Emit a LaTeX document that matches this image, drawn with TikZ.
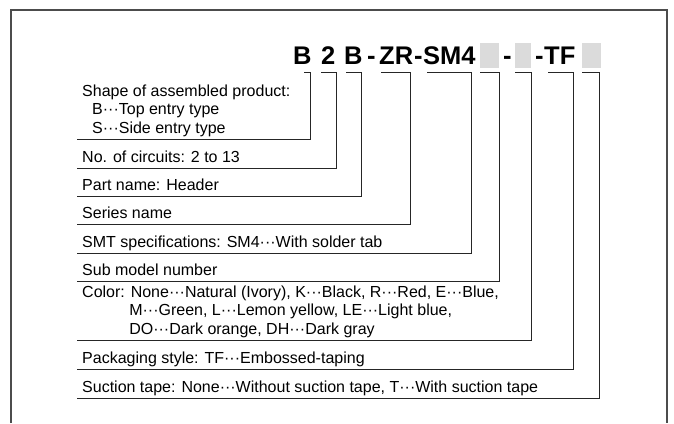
\documentclass[tikz,border=0pt]{standalone}
\usepackage{fontspec}
\setmainfont{Liberation Sans}
\begin{document}
\begin{tikzpicture}[x=1pt,y=-1pt,
		code/.style={anchor=base west,inner sep=0pt,font=\fontsize{25.5}{28}\selectfont\bfseries},
		blank/.style={anchor=north west,fill=black!14,minimum height=25pt,inner sep=0pt},
		desc/.style={anchor=base west,inner sep=0pt,align=left,font=\fontsize{16}{18.3}\selectfont},
		lead/.style={line width=0.9pt,black!85}]
		\useasboundingbox (0,0) rectangle (674,423);
		\draw[line width=1.1pt,black!70] (11,423) -- (11,10) -- (667,10) -- (667,423);

		\node[code] (cShape) at (293,64) {B};
		\node[code] (cCirc) at (321,64) {2};
		\node[code] (cPart) at (344,64) {B};
		\node[code] (h1) at (367,64) {-};
		\node[code] (cSeries) at (379,64) {ZR};
		\node[code] (h2) at (414,64) {-};
		\node[code] (cSMT) at (423,64) {SM4};
		\node[blank,minimum width=19pt] (cSub) at (480,43) {};
		\node[code] (h3) at (503,64) {-};
		\node[blank,minimum width=16pt] (cColor) at (515,43) {};
		\node[code] (h4) at (535,64) {-};
		\node[code] (cPack) at (544,64) {TF};
		\node[blank,minimum width=19pt] (cTape) at (582,43) {};

		% base of a multi-line node = its last line
		\node[desc] (dShape) at (82,133) {Shape of assembled product:\\\hspace*{10pt}B···Top entry type\\\hspace*{10pt}S···Side entry type};
		\node[desc] (dCirc) at (82,162) {No. of circuits: 2 to 13};
		\node[desc] (dPart) at (82,190) {Part name: Header};
		\node[desc] (dSeries) at (82,218) {Series name};
		\node[desc] (dSMT) at (82,247) {SMT specifications: SM4···With solder tab};
		\node[desc] (dSub) at (82,275) {Sub model number};
		\node[desc] (dColor) at (82,334) {Color: None···Natural (Ivory), K···Black, R···Red, E···Blue,\\\hphantom{Color:\ }M···Green, L···Lemon yellow, LE···Light blue,\\\hphantom{Color:\ }DO···Dark orange, DH···Dark gray};
		\node[desc] (dPack) at (82,363) {Packaging style: TF···Embossed-taping};
		\node[desc] (dTape) at (82,392) {Suction tape: None···Without suction tape, T···With suction tape};

		\coordinate (eShape) at (77,139);
		\coordinate (eCirc) at (77,168);
		\coordinate (ePart) at (77,196);
		\coordinate (eSeries) at (77,224);
		\coordinate (eSMT) at (77,253);
		\coordinate (eSub) at (77,281);
		\coordinate (eColor) at (77,340);
		\coordinate (ePack) at (77,369);
		\coordinate (eTape) at (77,398);

		\coordinate (rShape) at (310,72);
		\coordinate (rCirc) at (336,72);
		\coordinate (rPart) at (361,72);
		\coordinate (rSeries) at (410,72);
		\coordinate (rSMT) at (471,72);
		\coordinate (rSub) at (499,72);
		\coordinate (rColor) at (531,72);
		\coordinate (rPack) at (573,72);
		\coordinate (rTape) at (599,72);

		\coordinate (aShape) at (304,72);
		\coordinate (aCirc) at (321,72);
		\coordinate (aPart) at (346,72);
		\coordinate (aSeries) at (381,72);
		\coordinate (aSMT) at (427,72);
		\coordinate (aSub) at (480,72);
		\coordinate (aColor) at (515,72);
		\coordinate (aPack) at (548,72);
		\coordinate (aTape) at (582,72);

		\draw[lead] (eShape) -| (rShape) -- (aShape);
		\draw[lead] (eCirc) -| (rCirc) -- (aCirc);
		\draw[lead] (ePart) -| (rPart) -- (aPart);
		\draw[lead] (eSeries) -| (rSeries) -- (aSeries);
		\draw[lead] (eSMT) -| (rSMT) -- (aSMT);
		\draw[lead] (eSub) -| (rSub) -- (aSub);
		\draw[lead] (eColor) -| (rColor) -- (aColor);
		\draw[lead] (ePack) -| (rPack) -- (aPack);
		\draw[lead] (eTape) -| (rTape) -- (aTape);
	\end{tikzpicture}
\end{document}
